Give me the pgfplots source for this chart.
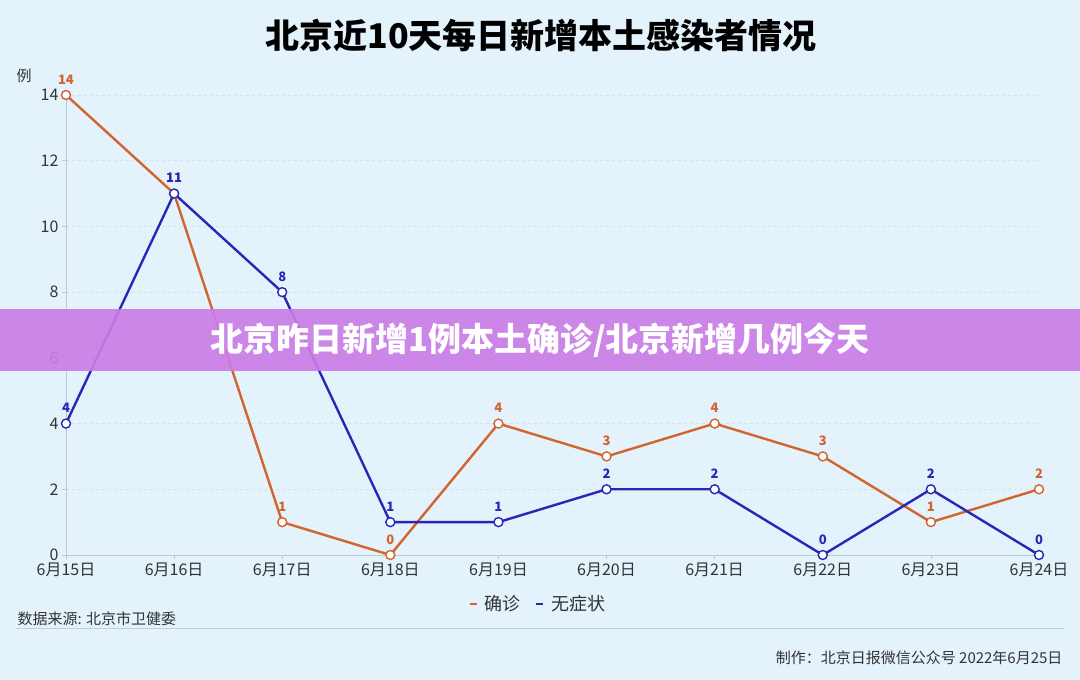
\documentclass[border=0pt]{standalone}
\usepackage{fontspec}
\setmainfont{Noto Sans CJK SC}
\usepackage{pgfplots}
\pgfplotsset{compat=1.18}
\definecolor{bg}{HTML}{E4F2FC}
\definecolor{quezhen}{HTML}{D2642F}
\definecolor{wuzz}{HTML}{2828B8}
\definecolor{banner}{HTML}{C97DE6}
\definecolor{txt}{HTML}{333333}
\definecolor{axgray}{HTML}{BFC8D0}
\definecolor{gridc}{HTML}{D3E2EE}
\newcommand{\fs}[1]{\fontsize{#1}{#1}\selectfont}
\begin{document}
\begin{tikzpicture}[x=1pt,y=1pt]
\fill[bg] (0,0) rectangle (1080,680);
\node[font=\fs{34}\bfseries] at (541,645) {北京近10天每日新增本土感染者情况};
\node[font=\fs{15}, text=txt] at (24,604) {例};
\begin{axis}[
    at={(66pt,125pt)}, anchor=south west,
    scale only axis, width=973pt, height=460pt,
    xmin=0, xmax=9, ymin=0, ymax=14,
    xtick={0,...,9},
    xticklabels={6月15日,6月16日,6月17日,6月18日,6月19日,6月20日,6月21日,6月22日,6月23日,6月24日},
    ytick={0,2,...,14},
    axis x line*=bottom, axis y line*=left,
    axis line style={-, draw=axgray, line width=0.8pt},
    tick align=outside, major tick length=4pt,
    tick style={draw=axgray, line width=0.6pt},
    ymajorgrids, grid style={dashed, draw=gridc, line width=0.5pt},
    ticklabel style={font=\fs{16}, text=txt},
    /pgf/number format/assume math mode=true,
    clip=false,
    legend style={at={(axis description cs:0.485,-0.1065)}, anchor=center,
        draw=none, fill=none, font=\fs{18}, text=txt, legend columns=2,
        /tikz/every odd column/.append style={column sep=5pt},
        /tikz/every even column/.append style={column sep=12pt}},
    legend image code/.code={\draw[#1, mark=none] (0pt,0pt) -- (7pt,0pt);},
    nodes near coords,
    every node near coord/.append style={font=\fs{13}\bfseries, anchor=south, inner sep=0pt, yshift=10pt},
]
\addplot[quezhen, line width=2.4pt, mark=*, mark size=4.5pt,
    mark options={fill=white, line width=1.4pt},
    every node near coord/.append style={text=quezhen}]
    coordinates {(0,14) (1,11) (2,1) (3,0) (4,4) (5,3) (6,4) (7,3) (8,1) (9,2)};
\addlegendentry{确诊}
\addplot[wuzz, line width=2.4pt, mark=*, mark size=4.5pt,
    mark options={fill=white, line width=1.4pt},
    every node near coord/.append style={text=wuzz}]
    coordinates {(0,4) (1,11) (2,8) (3,1) (4,1) (5,2) (6,2) (7,0) (8,2) (9,0)};
\addlegendentry{无症状}
\end{axis}
\fill[banner, opacity=0.92] (0,309) rectangle (1080,371);
\node[font=\fs{33}\bfseries, text=white] at (540,340) {北京昨日新增1例本土确诊/北京新增几例今天};
\draw[draw=gridc!80!gray, line width=0.8pt] (16,52) -- (1064,52);
\node[font=\fs{15}, text=txt, anchor=west] at (14,61) {数据来源: 北京市卫健委};
\node[font=\fs{15}, text=txt, anchor=east] at (1066,22) {制作：北京日报微信公众号\ 2022年6月25日};
\end{tikzpicture}
\end{document}
